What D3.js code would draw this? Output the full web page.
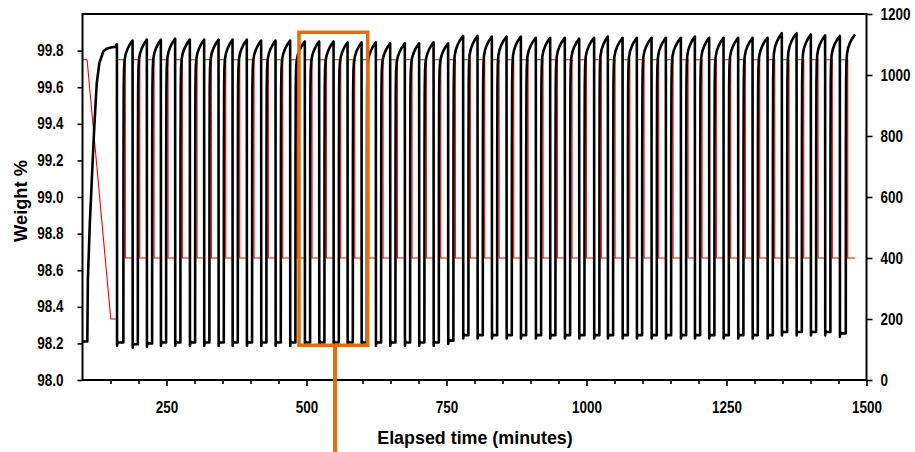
<!DOCTYPE html>
<html>
<head>
<meta charset="utf-8">
<script src="https://cdn.jsdelivr.net/npm/d3@7"></script>
<style>
  html, body { margin: 0; padding: 0; background: #fff; }
  svg { display: block; }
  .lbl { font-family: "Liberation Sans", Arial, sans-serif; font-weight: bold; fill: #000; }
</style>
</head>
<body>
<svg id="chart" width="915" height="452"></svg>
<script>
// ---------------- DATA ----------------
const xTickLabels = [250, 500, 750, 1000, 1250, 1500];
const xMinorTicks = [150, 200, 300, 350, 400, 450, 550, 600, 650, 700, 800, 850, 900, 950,
                     1050, 1100, 1150, 1200, 1300, 1350, 1400, 1450];
const weightTicks = [98.0, 98.2, 98.4, 98.6, 98.8, 99.0, 99.2, 99.4, 99.6, 99.8];
const tempTicks = [0, 200, 400, 600, 800, 1000, 1200];

// initial conditioning segment (minutes, weight %)
const initTime   = [100, 108.6, 109.6, 110.4, 113.0, 117.0, 121.0, 125.4, 130.0, 137.1, 143.0, 149.1, 155.0, 159.6, 160.6];
const initWeight = [98.21, 98.21, 98.55, 98.62, 98.85, 99.12, 99.38, 99.62, 99.73, 99.795, 99.81, 99.815, 99.82, 99.82, 99.835];
// initial temperature ramp (minutes, °C)
const initTempTime  = [100, 108.2, 150.5, 160.7];
const initTempValue = [1050, 1050, 200, 200];

// temperature switching times (minutes): up to 1050 / down to 400
const heatTimes = [161.5, 189.4, 214.9, 239.9, 265.4, 291.7, 317.2, 342.9, 367.9, 393.4,
                   419.0, 444.7, 470.8, 497.0, 522.6, 548.3, 573.3, 598.3, 623.8, 649.4,
                   675.6, 701.1, 726.9, 752.9, 779.7, 805.4, 831.0, 857.2, 882.8, 909.5,
                   935.1, 961.3, 986.9, 1013.6, 1038.1, 1064.4, 1089.9, 1116.1, 1141.7, 1168.5,
                   1193.5, 1219.0, 1244.7, 1270.8, 1296.5, 1323.3, 1348.8, 1375.1, 1400.6, 1426.1, 1452.4];
const coolTimes = [176.5, 202.3, 227.8, 252.8, 278.3, 304.6, 330.1, 355.8, 380.8, 406.3,
                   431.9, 457.6, 483.7, 509.9, 535.5, 561.2, 586.2, 611.2, 636.7, 662.3,
                   688.5, 714.0, 739.8, 765.8, 792.6, 818.3, 843.9, 870.1, 895.7, 922.4,
                   948.0, 974.2, 999.8, 1026.5, 1051.0, 1077.3, 1102.8, 1129.0, 1154.6, 1181.4,
                   1206.4, 1231.9, 1257.6, 1283.7, 1309.4, 1336.2, 1361.7, 1388.0, 1413.5, 1439.0, 1466.5];
// weight rise (start of each oxidation step, minutes)
const riseTimes = [173.0, 198.8, 224.3, 249.3, 274.8, 301.1, 326.6, 352.3, 377.3, 402.8,
                   428.4, 454.1, 480.2, 506.4, 532.0, 557.7, 582.7, 607.7, 633.2, 658.8,
                   685.0, 710.5, 736.3, 762.3, 789.1, 814.8, 840.4, 866.6, 892.2, 918.9,
                   944.5, 970.7, 996.3, 1023.0, 1047.5, 1073.8, 1099.3, 1125.5, 1151.1, 1177.9,
                   1202.9, 1228.4, 1254.1, 1280.2, 1305.9, 1332.7, 1358.2, 1384.5, 1410.0, 1435.5, 1463.0];
const highTemp = 1050;
const lowTemp = 400;
const endTime = 1479.5;

// weight % at the end of each oxidation step (just before each drop, heatTimes[1..])
const peakWeights = [99.855, 99.86, 99.86, 99.865, 99.86, 99.86, 99.86, 99.86, 99.86, 99.855,
                     99.855, 99.855, 99.85, 99.85, 99.85, 99.845, 99.845, 99.845, 99.84, 99.84,
                     99.84, 99.845, 99.84, 99.88, 99.88, 99.877, 99.877, 99.877, 99.87, 99.87,
                     99.87, 99.865, 99.87, 99.877, 99.87, 99.87, 99.87, 99.87, 99.87, 99.877,
                     99.87, 99.87, 99.87, 99.87, 99.87, 99.895, 99.895, 99.888, 99.883, 99.88];
const endWeight = 99.888;
// weight % during each reduction step (after each drop)
const lowWeights = [98.205, 98.195, 98.2, 98.205, 98.205, 98.205, 98.205, 98.205, 98.205, 98.205,
                    98.205, 98.205, 98.205, 98.205, 98.205, 98.205, 98.205, 98.205, 98.205, 98.205,
                    98.205, 98.205, 98.205, 98.215, 98.245, 98.245, 98.245, 98.245, 98.245, 98.245,
                    98.245, 98.245, 98.245, 98.245, 98.245, 98.245, 98.245, 98.245, 98.245, 98.245,
                    98.245, 98.245, 98.245, 98.245, 98.245, 98.245, 98.262, 98.262, 98.262, 98.262, 98.255];

// shape of one oxidation step (fraction of step time, fraction of weight gain)
const riseShapeU = [0, 0.012, 0.035, 0.07, 0.13, 0.25, 0.45, 0.7, 1];
const riseShapeF = [0, 0.62, 0.84, 0.905, 0.935, 0.955, 0.972, 0.987, 1];
// small undershoot after each drop (minutes after drop, weight offset)
const dropShapeDt = [0.2, 1.0, 2.5];
const dropShapeDw = [-0.018, 0.006, 0];

// highlighted region (minutes, weight %)
const highlightTime = [486.6, 609.3];
const highlightWeight = [98.19, 99.9];
const pointerTime = 551;

// ---------------- CHART ----------------
const svg = d3.select("#chart");
const L = 82.5, R = 866.5, T = 14, B = 380;

const x = d3.scaleLinear().domain([100, 1500]).range([L, R]);
const yW = d3.scaleLinear().domain([98, 100]).range([B, T]);
const yT = d3.scaleLinear().domain([0, 1200]).range([B, T]);

// temperature series
const tempPts = initTempTime.map((t, i) => [t, initTempValue[i]]);
let prevT = initTempValue[initTempValue.length - 1];
heatTimes.forEach((th, i) => {
  tempPts.push([th, prevT]);
  tempPts.push([th, highTemp]);
  tempPts.push([coolTimes[i], highTemp]);
  tempPts.push([coolTimes[i], lowTemp]);
  prevT = lowTemp;
});
tempPts.push([endTime, lowTemp]);

// weight series
const wPts = initTime.map((t, i) => [t, initWeight[i]]);
heatTimes.forEach((th, i) => {
  const lw = lowWeights[i];
  wPts.push([th, wPts[wPts.length - 1][1]]);
  dropShapeDt.forEach((dt, k) => wPts.push([th + dt, lw + dropShapeDw[k]]));
  const tr = riseTimes[i];
  wPts.push([tr, lw]);
  const tEnd = i < heatTimes.length - 1 ? heatTimes[i + 1] : endTime;
  const pk = i < heatTimes.length - 1 ? peakWeights[i] : endWeight;
  riseShapeU.forEach((u, k) => wPts.push([tr + u * (tEnd - tr), lw + riseShapeF[k] * (pk - lw)]));
});

const tempLine = d3.line().x(d => x(d[0])).y(d => yT(d[1]));
const wLine = d3.line().x(d => x(d[0])).y(d => yW(d[1]));

svg.append("path").datum(tempPts).attr("d", tempLine)
  .attr("fill", "none").attr("stroke", "#ff0000").attr("stroke-width", 1.1);
svg.append("path").datum(wPts).attr("d", wLine)
  .attr("fill", "none").attr("stroke", "#000").attr("stroke-width", 2.6)
  .attr("stroke-linejoin", "round");

// frame
svg.append("rect").attr("x", L).attr("y", T).attr("width", R - L).attr("height", B - T)
  .attr("fill", "none").attr("stroke", "#000").attr("stroke-width", 2);

// narrow the bold labels to match the condensed look of the original
function condense(sel, k) {
  sel.each(function () {
    const w = this.getComputedTextLength();
    d3.select(this).attr("textLength", w * k).attr("lengthAdjust", "spacingAndGlyphs");
  });
}
function styleAxis(g) {
  g.select(".domain").remove();
  g.selectAll(".tick line").attr("stroke", "#000").attr("stroke-width", 1.6);
  g.selectAll(".tick text").attr("class", "lbl").attr("font-size", 16);
  condense(g.selectAll(".tick text"), 0.84);
}
const gx = svg.append("g").attr("transform", `translate(0,${B})`)
  .call(d3.axisBottom(x).tickValues(xTickLabels).tickSize(6).tickPadding(16).tickFormat(d3.format("d")));
styleAxis(gx);
const gxm = svg.append("g").attr("transform", `translate(0,${B})`)
  .call(d3.axisBottom(x).tickValues(xMinorTicks).tickSize(4).tickFormat(""));
gxm.select(".domain").remove();
gxm.selectAll(".tick line").attr("stroke", "#000").attr("stroke-width", 1.6);

const gl = svg.append("g").attr("transform", `translate(${L},0)`)
  .call(d3.axisLeft(yW).tickValues(weightTicks).tickSize(5).tickPadding(14).tickFormat(d3.format(".1f")));
styleAxis(gl);

const gr = svg.append("g").attr("transform", `translate(${R},0)`)
  .call(d3.axisRight(yT).tickValues(tempTicks).tickSize(6).tickPadding(8).tickFormat(d3.format("d")));
styleAxis(gr);

// axis titles
const yTitle = svg.append("text").attr("class", "lbl").attr("font-size", 19)
  .attr("transform", `translate(27,${(T + B) / 2 + 4}) rotate(-90)`)
  .attr("text-anchor", "middle").text("Weight %");
condense(yTitle, 0.96);
const xTitle = svg.append("text").attr("class", "lbl").attr("font-size", 19)
  .attr("x", 475).attr("y", 444).attr("text-anchor", "middle").text("Elapsed time (minutes)");
condense(xTitle, 0.94);

// highlight annotation
const orange = "#e46c0a";
svg.append("rect")
  .attr("x", x(highlightTime[0])).attr("y", yW(highlightWeight[1]))
  .attr("width", x(highlightTime[1]) - x(highlightTime[0]))
  .attr("height", yW(highlightWeight[0]) - yW(highlightWeight[1]))
  .attr("fill", "none").attr("stroke", orange).attr("stroke-width", 3.5);
svg.append("line")
  .attr("x1", x(pointerTime)).attr("x2", x(pointerTime))
  .attr("y1", yW(highlightWeight[0])).attr("y2", 452)
  .attr("stroke", orange).attr("stroke-width", 4);
</script>
</body>
</html>
